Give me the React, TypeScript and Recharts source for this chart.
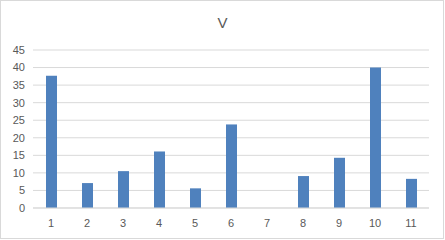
import React from "react";
import { BarChart, Bar, XAxis, YAxis, CartesianGrid } from "recharts";

const categories = ["1", "2", "3", "4", "5", "6", "7", "8", "9", "10", "11"];
const values = [37.7, 7.1, 10.5, 16.1, 5.6, 23.8, 0, 9.1, 14.3, 40, 8.3];
const yTicks = [0, 5, 10, 15, 20, 25, 30, 35, 40, 45];
const title = "V";

const data = categories.map((c, i) => ({ name: c, v: values[i] }));

export default function App() {
  return (
    <div
      style={{
        position: "absolute",
        left: 0,
        top: 0,
        width: 445,
        height: 240,
        background: "#fff",
        fontFamily: "'Liberation Sans', Arial, sans-serif",
      }}
    >
      <div
        style={{
          position: "absolute",
          left: 0,
          top: 0,
          width: 444,
          height: 239,
          border: "1px solid #d9d9d9",
          boxSizing: "border-box",
        }}
      />
      <div
        style={{
          position: "absolute",
          left: 0,
          top: 14,
          width: 445,
          textAlign: "center",
          fontSize: 15,
          color: "#595959",
          lineHeight: "18px",
        }}
      >
        {title}
      </div>
      <BarChart
        width={445}
        height={240}
        data={data}
        margin={{ top: 50, right: 16, bottom: 2, left: 0 }}
        barSize={11}
      >
        <CartesianGrid vertical={false} stroke="#d9d9d9" />
        <XAxis
          dataKey="name"
          tickLine={false}
          axisLine={{ stroke: "#d9d9d9" }}
          tick={{ fill: "#595959", fontSize: 11 }}
          tickMargin={5}
          interval={0}
        />
        <YAxis
          width={33}
          domain={[0, 45]}
          ticks={yTicks}
          tickLine={false}
          axisLine={false}
          tick={{ fill: "#595959", fontSize: 11 }}
          interval={0}
        />
        <Bar dataKey="v" fill="#4f81bd" isAnimationActive={false} />
      </BarChart>
    </div>
  );
}
